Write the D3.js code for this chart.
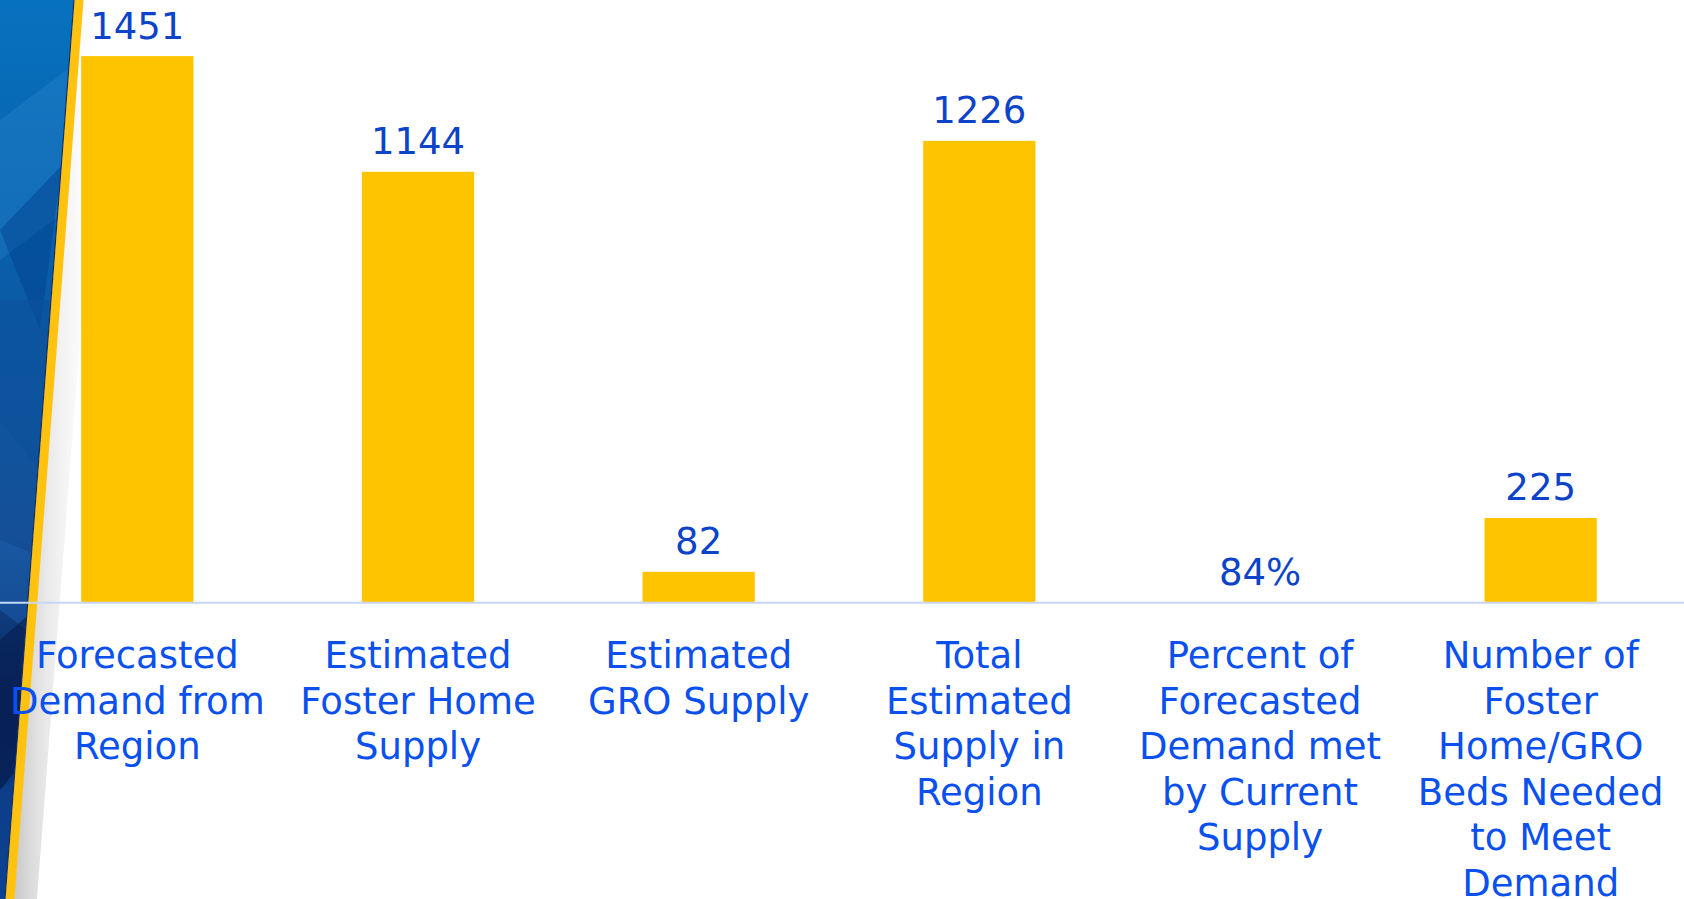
<!DOCTYPE html>
<html>
<head>
<meta charset="utf-8">
<script src="https://cdn.jsdelivr.net/npm/d3@7"></script>
<style>
  html, body { margin: 0; padding: 0; background: #ffffff; overflow: hidden; }
  svg { display: block; font-family: "DejaVu Sans", Verdana, sans-serif; }
</style>
</head>
<body>
<svg id="chart" width="1684" height="899"></svg>
<script>
"use strict";

// data
const categories = [
    "Forecasted Demand from Region",
    "Estimated Foster Home Supply",
    "Estimated GRO Supply",
    "Total Estimated Supply in Region",
    "Percent of Forecasted Demand met by Current Supply",
    "Number of Foster Home/GRO Beds Needed to Meet Demand"
];
const categoryLines = [
    ["Forecasted", "Demand from", "Region"],
    ["Estimated", "Foster Home", "Supply"],
    ["Estimated", "GRO Supply"],
    ["Total", "Estimated", "Supply in", "Region"],
    ["Percent of", "Forecasted", "Demand met", "by Current", "Supply"],
    ["Number of", "Foster", "Home/GRO", "Beds Needed", "to Meet", "Demand"]
];
const values = [1451, 1144, 82, 1226, 0.84, 225];
const valueLabels = ["1451", "1144", "82", "1226", "84%", "225"];

const width = 1684, height = 899;
const baseY = 602.7;

const svg = d3.select("#chart");

// ---- left slide decoration (blue panel + yellow stripe) ----
const defs = svg.append("defs");
const blueGrad = defs.append("linearGradient")
    .attr("id", "blueGrad").attr("x1", 0).attr("y1", 0).attr("x2", 0).attr("y2", 1);
blueGrad.append("stop").attr("offset", "0%").attr("stop-color", "#0672bf");
blueGrad.append("stop").attr("offset", "35%").attr("stop-color", "#0b5aa5");
blueGrad.append("stop").attr("offset", "60%").attr("stop-color", "#154f98");
blueGrad.append("stop").attr("offset", "78%").attr("stop-color", "#08265e");
blueGrad.append("stop").attr("offset", "100%").attr("stop-color", "#0a3a86");

const shadowGrad = defs.append("linearGradient")
    .attr("id", "shadowGrad").attr("x1", 0).attr("y1", 0).attr("x2", 1).attr("y2", 0);
shadowGrad.append("stop").attr("offset", "0%").attr("stop-color", "#c8c8c8");
shadowGrad.append("stop").attr("offset", "100%").attr("stop-color", "#ffffff").attr("stop-opacity", 0);

const edgeX = y => 74 - 0.0768 * y;   // left edge of the stripe

defs.append("clipPath").attr("id", "panelClip")
    .append("path")
    .attr("d", `M0,0 L${edgeX(0)},0 L${edgeX(height)},${height} L0,${height} Z`);

const deco = svg.append("g").attr("class", "deco");
deco.append("path")
    .attr("d", `M${edgeX(0) + 9},0 L${edgeX(0) + 32},0 L${edgeX(height) + 32},${height} L${edgeX(height) + 9},${height} Z`)
    .attr("fill", "url(#shadowGrad)");
const panel = deco.append("g").attr("clip-path", "url(#panelClip)");
panel.append("rect").attr("width", 90).attr("height", height).attr("fill", "url(#blueGrad)");
// facets
const facets = [
    {d: "M0,120 L80,60 L80,200 L0,260 Z", c: "#2a86cf", o: 0.35},
    {d: "M0,230 L62,165 L40,330 Z", c: "#003f8c", o: 0.45},
    {d: "M0,300 L60,300 L40,470 L0,420 Z", c: "#0b4f9a", o: 0.5},
    {d: "M0,540 L50,560 L40,640 L0,610 Z", c: "#1c5fae", o: 0.5},
    {d: "M0,640 L45,600 L40,760 L0,790 Z", c: "#061c4f", o: 0.6},
    {d: "M0,790 L40,740 L40,899 L0,899 Z", c: "#0e4a9c", o: 0.55}
];
panel.selectAll("path.facet").data(facets).join("path")
    .attr("class", "facet")
    .attr("d", d => d.d)
    .attr("fill", d => d.c)
    .attr("opacity", d => d.o);
deco.append("path")
    .attr("d", `M${edgeX(0) + 0.5},0 L${edgeX(0) + 9.5},0 L${edgeX(height) + 9.5},${height} L${edgeX(height) + 0.5},${height} Z`)
    .attr("fill", "#ffc20e");
deco.append("line")
    .attr("x1", edgeX(0)).attr("y1", 0).attr("x2", edgeX(height)).attr("y2", height)
    .attr("stroke", "#1b2d55").attr("stroke-width", 1.2);

// ---- scales ----
const x = d3.scaleBand()
    .domain(d3.range(categories.length))
    .range([-3, 1681])
    .paddingInner(0.6)
    .paddingOuter(0.3);

const y = d3.scaleLinear()
    .domain([0, 1600])
    .range([baseY, 0]);

const chart = svg.append("g").attr("class", "chart");

// bars
chart.selectAll("rect.bar")
    .data(values)
    .join("rect")
    .attr("class", "bar")
    .attr("x", (d, i) => x(i))
    .attr("y", d => y(d))
    .attr("width", x.bandwidth())
    .attr("height", d => y(0) - y(d))
    .attr("fill", "#ffc400");

// value labels
chart.selectAll("text.value")
    .data(values)
    .join("text")
    .attr("class", "value")
    .attr("x", (d, i) => x(i) + x.bandwidth() / 2)
    .attr("y", d => y(d) - 17.5)
    .attr("text-anchor", "middle")
    .attr("font-size", 37)
    .attr("fill", "#0c43c9")
    .text((d, i) => valueLabels[i]);

// baseline axis line
chart.append("line")
    .attr("x1", 0).attr("x2", width)
    .attr("y1", baseY).attr("y2", baseY)
    .attr("stroke", "#c6d6f7")
    .attr("stroke-width", 2);

// category axis
const xAxis = chart.append("g")
    .attr("class", "xAxis")
    .attr("transform", `translate(0, ${baseY})`)
    .call(d3.axisBottom(x).tickSize(0).tickFormat(""));
xAxis.select(".domain").remove();
xAxis.selectAll(".tick text")
    .attr("y", null).attr("dy", null)
    .attr("font-size", 37)
    .attr("font-family", "\"DejaVu Sans\", Verdana, sans-serif")
    .attr("fill", "#0a50ee")
    .attr("text-anchor", "middle")
    .each(function(i) {
        const t = d3.select(this);
        categoryLines[i].forEach((line, k) => {
            t.append("tspan")
                .attr("x", 0)
                .attr("y", 65.3 + k * 45.6)
                .text(line);
        });
    });
</script>
</body>
</html>
